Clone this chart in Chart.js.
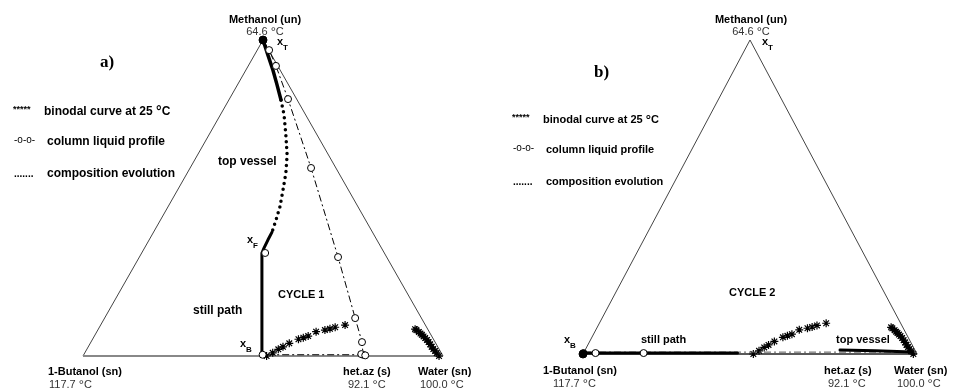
<!DOCTYPE html>
<html>
<head>
<meta charset="utf-8">
<script src="https://cdn.jsdelivr.net/npm/chart.js@4.4.1/dist/chart.umd.min.js"></script>
<style>
  html, body { margin: 0; padding: 0; background: #fff; }
  #wrap { position: relative; width: 953px; height: 389px; }
  canvas { position: absolute; top: 0; }
  #c1 { left: 0; }
  #c2 { left: 476px; }
</style>
</head>
<body>
<div id="wrap">
  <canvas id="c1" width="476" height="389"></canvas>
  <canvas id="c2" width="477" height="389"></canvas>
</div>
<script>
// compositions are [water, methanol] mole fractions, 1-butanol is the rest
const triSides = [[0, 0], [0, 1], [1, 0]];   // butanol -> methanol -> water
const triBase = [[0, 0], [1, 0]];

// binodal curve at 25 C (same in both cycles)
const binodalOrg = [[0.510, 0.000], [0.522, 0.010], [0.532, 0.021], [0.541, 0.029], [0.553, 0.040],
  [0.572, 0.053], [0.583, 0.058], [0.594, 0.063], [0.609, 0.077], [0.631, 0.082],
  [0.643, 0.086], [0.655, 0.091], [0.679, 0.098]];
const binodalAq = [[0.880, 0.085], [0.885, 0.082], [0.895, 0.076], [0.902, 0.071], [0.908, 0.067],
  [0.915, 0.062], [0.922, 0.057], [0.930, 0.051], [0.938, 0.044], [0.946, 0.037],
  [0.954, 0.029], [0.962, 0.022], [0.970, 0.016], [0.978, 0.009], [0.989, 0.000]];

// cycle 1 - composition evolution (top vessel then still path)
const c1TopSolid = [[0.000, 1.000], [0.037, 0.953], [0.075, 0.905], [0.110, 0.858], [0.145, 0.810]];
const c1TopDots = [[0.145, 0.810], [0.177, 0.763], [0.214, 0.699], [0.249, 0.636], [0.274, 0.579],
  [0.293, 0.525], [0.311, 0.472], [0.321, 0.430], [0.329, 0.392]];
const c1Still = [[0.329, 0.392], [0.330, 0.367], [0.332, 0.342], [0.334, 0.326], [0.497, 0.000]];
// cycle 1 - column liquid profile
const c1Profile = [[0.000, 1.000], [0.033, 0.968], [0.077, 0.918], [0.163, 0.813], [0.336, 0.595],
  [0.552, 0.313], [0.696, 0.120], [0.753, 0.044], [0.776, 0.004], [0.497, 0.004]];
const c1HetAz = [[0.770, 0.006], [0.783, 0.002]];
const c1Feed = [[0.343, 0.326]];
const c1Top = [[0.000, 1.000]];

// cycle 2
const c2Still = [[0.000, 0.003], [0.461, 0.003]];
const c2TopVessel = [[0.763, 0.013], [0.869, 0.010], [0.982, 0.006]];
const c2Profile = [[0.000, 0.006], [0.995, 0.006]];
const c2ProfilePts = [[0.000, 0.003], [0.036, 0.003], [0.180, 0.003]];
const c2Bottom = [[0.000, 0.000]];

function toXY(p) { return { x: p[0] + p[1] / 2, y: p[1] }; }

function ds(points, style) {
  return Object.assign({ data: points.map(toXY), clip: false, showLine: false, pointRadius: 0 }, style);
}

// rich text: parts = [[text, kind]]
const FONTS = {
  b: ['bold 11px "Liberation Sans", Arial, sans-serif', 0],
  B: ['bold 12px "Liberation Sans", Arial, sans-serif', 0],
  r: ['11px "Liberation Sans", Arial, sans-serif', 0],
  sub: ['bold 8px "Liberation Sans", Arial, sans-serif', 5],
  degb: ['bold 13px "Liberation Sans", Arial, sans-serif', 1],
  degB: ['bold 14px "Liberation Sans", Arial, sans-serif', 1],
  degR: ['13px "Liberation Sans", Arial, sans-serif', 1],
  ast: ['bold 9px "Liberation Sans", Arial, sans-serif', 0],
  sm: ['10px "Liberation Sans", Arial, sans-serif', 0],
  dot: ['bold 10px "Liberation Sans", Arial, sans-serif', 0],
  title: ['bold 17px "Liberation Serif", "Times New Roman", serif', 0]
};

function drawRich(ctx, it) {
  let x = it.x;
  if (it.center) {
    let w = 0;
    it.parts.forEach(p => { ctx.font = FONTS[p[1]][0]; w += ctx.measureText(p[0]).width; });
    x -= w / 2;
  }
  ctx.fillStyle = it.color || '#000';
  ctx.textBaseline = 'alphabetic';
  it.parts.forEach(p => {
    ctx.font = FONTS[p[1]][0];
    ctx.fillText(p[0], x, it.y + FONTS[p[1]][1]);
    x += ctx.measureText(p[0]).width;
  });
}

function textPlugin(items) {
  return {
    id: 'texts',
    afterDraw(chart) {
      const ctx = chart.ctx;
      ctx.save();
      items.forEach(it => drawRich(ctx, it));
      ctx.restore();
    }
  };
}

function labels(dx, o) {
  const f = o.font, d = f === 'B' ? 'degB' : 'degb';
  const L = [
    { x: 13, y: 112 + o.ly, parts: [['*****', 'ast']] },
    { x: 44, y: 115 + o.ly, parts: [['binodal curve at 25 ', f], ['°', d], ['C', f]] },
    { x: 14, y: 143 + o.ly, parts: [['-o-o-', 'sm']] },
    { x: 47, y: 145 + o.ly, parts: [['column liquid profile', f]] },
    { x: 14, y: 177 + o.ly, parts: [['.......', 'dot']] },
    { x: 47, y: 177 + o.ly, parts: [['composition evolution', f]] }
  ];
  L.forEach(it => { it.x += o.lx; });
  return L.concat(o.extra).map(it => Object.assign({}, it, { x: it.x - dx }));
}

const vertexText = (cx, bx, tx, wx, by) => [
  { x: cx, y: 23, center: true, parts: [['Methanol (un)', 'b']] },
  { x: cx, y: 35, center: true, color: '#333', parts: [['64.6 ', 'r'], ['°', 'degR'], ['C', 'r']] },
  { x: bx[0], y: by, parts: [['1-Butanol (sn)', 'b']] },
  { x: bx[1], y: by + 13, color: '#333', parts: [['117.7 ', 'r'], ['°', 'degR'], ['C', 'r']] },
  { x: tx[0], y: by, parts: [['het.az (s)', 'b']] },
  { x: tx[1], y: by + 13, color: '#333', parts: [['92.1 ', 'r'], ['°', 'degR'], ['C', 'r']] },
  { x: wx[0], y: by, parts: [['Water (sn)', 'b']] },
  { x: wx[1], y: by + 13, color: '#333', parts: [['100.0 ', 'r'], ['°', 'degR'], ['C', 'r']] }
];

const text1 = labels(0, {
  lx: 0, ly: 0, font: 'B',
  extra: vertexText(265, [48, 49], [343, 348], [418, 420], 375).concat([
    { x: 100, y: 67, parts: [['a)', 'title']] },
    { x: 277, y: 45, parts: [['x', 'b'], ['T', 'sub']] },
    { x: 218, y: 165, parts: [['top vessel', 'B']] },
    { x: 247, y: 243, parts: [['x', 'b'], ['F', 'sub']] },
    { x: 278, y: 298, parts: [['CYCLE 1', 'b']] },
    { x: 193, y: 314, parts: [['still path', 'B']] },
    { x: 240, y: 347, parts: [['x', 'b'], ['B', 'sub']] }
  ])
});

const text2 = labels(476, {
  lx: 499, ly: 8, font: 'b',
  extra: vertexText(751, [543, 553], [824, 828], [894, 897], 374).concat([
    { x: 594, y: 77, parts: [['b)', 'title']] },
    { x: 762, y: 45, parts: [['x', 'b'], ['T', 'sub']] },
    { x: 729, y: 296, parts: [['CYCLE 2', 'b']] },
    { x: 641, y: 343, parts: [['still path', 'b']] },
    { x: 564, y: 343, parts: [['x', 'b'], ['B', 'sub']] },
    { x: 836, y: 343, parts: [['top vessel', 'b']] }
  ])
});

const stars = { pointStyle: 'star', pointRadius: 4, borderColor: '#000', borderWidth: 1.2 };
const rings = { pointStyle: 'circle', pointRadius: 3.5, borderColor: '#000', backgroundColor: '#fff', borderWidth: 1 };
const thick = { showLine: true, borderColor: '#000', borderWidth: 3, borderCapStyle: 'round', borderJoinStyle: 'round' };
const blob = { pointStyle: 'circle', pointRadius: 4, backgroundColor: '#000', borderColor: '#000' };

function makeChart(id, padding, datasets, texts) {
  return new Chart(document.getElementById(id), {
    type: 'scatter',
    data: { datasets: datasets },
    options: {
      responsive: false,
      animation: false,
      layout: { padding: padding },
      scales: {
        x: { type: 'linear', min: 0, max: 1, display: false },
        y: { type: 'linear', min: 0, max: 1, display: false }
      },
      plugins: { legend: { display: false }, tooltip: { enabled: false } }
    },
    plugins: [textPlugin(texts)]
  });
}

makeChart('c1', { left: 83, right: 33, top: 40, bottom: 33 }, [
  ds(c1Top, blob),
  ds(c1Feed, rings),
  ds(c1HetAz, rings),
  ds(c1Profile, Object.assign({ showLine: true, borderColor: '#555', borderWidth: 1, borderDash: [7, 3, 2, 3] }, rings)),
  ds(c1TopSolid, Object.assign({}, thick, { borderWidth: 3.5 })),
  ds(c1TopDots, Object.assign({}, thick, { borderWidth: 3.5, borderDash: [0, 6] })),
  ds(c1Still, thick),
  ds(binodalOrg, stars),
  ds(binodalAq, stars),
  ds(triBase, { showLine: true, borderColor: '#888', borderWidth: 2 }),
  ds(triSides, { showLine: true, borderColor: '#444', borderWidth: 1 })
], text1);

makeChart('c2', { left: 107, right: 36, top: 40, bottom: 35 }, [
  ds(c2Bottom, blob),
  ds(c2ProfilePts, rings),
  ds(c2Still, thick),
  ds(c2TopVessel, thick),
  ds(c2Profile, { showLine: true, borderColor: '#555', borderWidth: 1, borderDash: [7, 3, 2, 3] }),
  ds(binodalOrg, stars),
  ds(binodalAq, stars),
  ds(triBase, { showLine: true, borderColor: '#222', borderWidth: 1.3 }),
  ds(triSides, { showLine: true, borderColor: '#444', borderWidth: 1 })
], text2);
</script>
</body>
</html>
